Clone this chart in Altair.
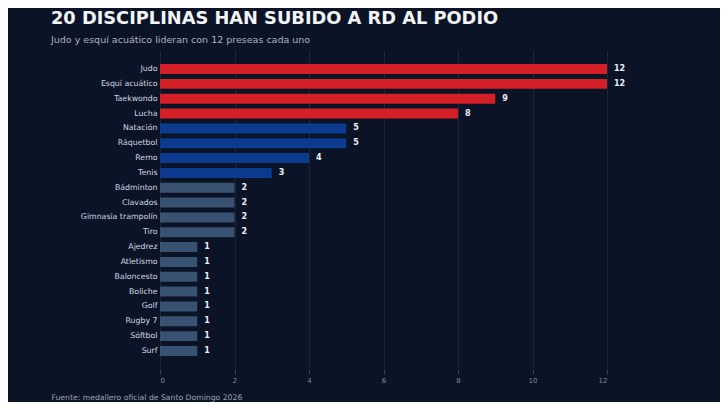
import altair as alt
import pandas as pd

disciplinas = ["Judo", "Esquí acuático", "Taekwondo", "Lucha", "Natación", "Ráquetbol",
               "Remo", "Tenis", "Bádminton", "Clavados", "Gimnasia trampolín", "Tiro",
               "Ajedrez", "Atletismo", "Baloncesto", "Boliche", "Golf", "Rugby 7",
               "Sóftbol", "Surf"]
medallas = [12, 12, 9, 8, 5, 5, 4, 3, 2, 2, 2, 2, 1, 1, 1, 1, 1, 1, 1, 1]
grupos = ["top"] * 4 + ["mid"] * 4 + ["low"] * 12

df = pd.DataFrame({"disciplina": disciplinas, "medallas": medallas, "grupo": grupos})

BG = "#0b1326"

y_enc = alt.Y("disciplina:N", sort=disciplinas, title=None,
              scale=alt.Scale(paddingInner=0.33, paddingOuter=0.95),
              axis=alt.Axis(labelColor="#d3d9e3", labelFontSize=7.8, labelFont="DejaVu Sans",
                            ticks=False, domain=False, labelPadding=3, grid=False))

x_enc = alt.X("medallas:Q", scale=alt.Scale(domain=[0, 12], nice=False),
              title="Fuente: medallero oficial de Santo Domingo 2026",
              axis=alt.Axis(values=[0, 2, 4, 6, 8, 10, 12], format="d",
                            labelColor="#7d889a", labelFontSize=7, labelFont="DejaVu Sans",
                            tickColor="#3a4558", tickSize=4, domain=False,
                            gridColor="#1b2538", gridWidth=1,
                            titleColor="#9aa3b2", titleFontSize=7.7, titleFont="DejaVu Sans",
                            titleFontWeight="normal", titleAnchor="start", titleAlign="left",
                            titleX=-109, titleY=29, titleBaseline="alphabetic"))

bars = alt.Chart(df).mark_bar().encode(
    x=x_enc,
    y=y_enc,
    color=alt.Color("grupo:N",
                    scale=alt.Scale(domain=["top", "mid", "low"],
                                    range=["#d41f27", "#0b3a8e", "#3a5272"]),
                    legend=None),
)

labels = alt.Chart(df).mark_text(align="left", baseline="middle", dx=7,
                                 fontSize=8, fontWeight="bold", color="#eef1f6",
                                 font="DejaVu Sans").encode(
    x="medallas:Q",
    y=alt.Y("disciplina:N", sort=disciplinas),
    text="medallas:Q",
)

chart = alt.layer(bars, labels).properties(
    width=447,
    height=320,
    background=BG,
    padding={"left": 152, "top": 42, "right": 113, "bottom": 32},
    autosize=alt.AutoSizeParams(type="none"),
    title=alt.TitleParams(
        text="20 DISCIPLINAS HAN SUBIDO A RD AL PODIO",
        subtitle="Judo y esquí acuático lideran con 12 preseas cada uno",
        anchor="start", dx=0, offset=6,
        font="DejaVu Sans", fontSize=17.8, fontWeight="bold", color="#f3f5f9",
        subtitleFont="DejaVu Sans", subtitleFontSize=9.5, subtitleColor="#aab3c1",
        subtitlePadding=7,
    ),
).configure_view(stroke=None)

chart.save("out.html", embed_options={"renderer": "svg", "actions": False})
